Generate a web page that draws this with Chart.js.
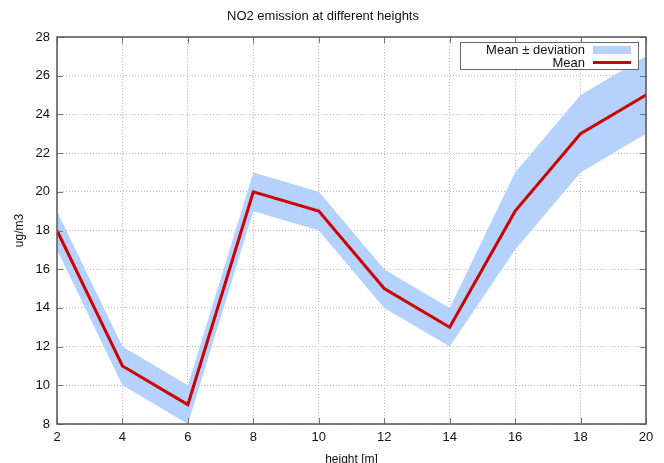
<!DOCTYPE html>
<html>
<head>
<meta charset="utf-8">
<script src="https://cdn.jsdelivr.net/npm/chart.js@4"></script>
<style>
  html, body { margin: 0; padding: 0; background: #fff; }
  canvas { display: block; }
</style>
</head>
<body>
<canvas id="grafico" width="664" height="463"></canvas>
<script>
// dados
const alturas = [2, 4, 6, 8, 10, 12, 14, 16, 18, 20];
const media = [18, 11, 9, 20, 19, 15, 13, 19, 23, 25];
const limiteSup = [19, 12, 10, 21, 20, 16, 14, 21, 25, 27];
const limiteInf = [17, 10, 8, 19, 18, 14, 12, 17, 21, 23];
const ticksY = [8, 10, 12, 14, 16, 18, 20, 22, 24, 26, 28];

const corFaixa = 'rgb(181,210,255)';
const corMedia = 'rgb(204,0,0)';
const fonte = "'Liberation Sans', Arial, sans-serif";

function pontos(vals) {
  return alturas.map((x, i) => ({ x: x, y: vals[i] }));
}

// caixa em volta do grafico + legenda do jeito do gnuplot
const caixaELegenda = {
  id: 'caixaELegenda',
  afterDatasetsDraw(chart) {
    const ctx = chart.ctx;
    const a = chart.chartArea;
    ctx.save();
    // marcas pra dentro
    ctx.strokeStyle = '#777';
    ctx.lineWidth = 1;
    const sx = chart.scales.x, sy = chart.scales.y;
    alturas.forEach(v => {
      const px = Math.round(sx.getPixelForValue(v)) + 0.5;
      ctx.beginPath(); ctx.moveTo(px, a.bottom); ctx.lineTo(px, a.bottom - 6); ctx.stroke();
      ctx.beginPath(); ctx.moveTo(px, a.top); ctx.lineTo(px, a.top + 6); ctx.stroke();
    });
    ticksY.forEach(v => {
      const py = Math.round(sy.getPixelForValue(v)) + 0.5;
      ctx.beginPath(); ctx.moveTo(a.left, py); ctx.lineTo(a.left + 6, py); ctx.stroke();
      ctx.beginPath(); ctx.moveTo(a.right, py); ctx.lineTo(a.right - 6, py); ctx.stroke();
    });
    // borda
    ctx.strokeStyle = '#555';
    ctx.lineWidth = 1.5;
    ctx.strokeRect(a.left, a.top, a.right - a.left, a.bottom - a.top);

    // legenda
    const lx = 460, ly = 42, lw = 178, lh = 27;
    ctx.fillStyle = '#fff';
    ctx.fillRect(lx, ly, lw, lh);
    ctx.strokeStyle = '#666';
    ctx.lineWidth = 1;
    ctx.strokeRect(lx + 0.5, ly + 0.5, lw, lh);
    ctx.font = '13px ' + fonte;
    ctx.fillStyle = '#111';
    ctx.textAlign = 'right';
    ctx.textBaseline = 'middle';
    ctx.fillText(chart.data.datasets[0].label, 585, 50);
    ctx.fillText(chart.data.datasets[2].label, 585, 63);
    ctx.fillStyle = corFaixa;
    ctx.fillRect(593, 46, 38, 8);
    ctx.strokeStyle = corMedia;
    ctx.lineWidth = 3;
    ctx.beginPath(); ctx.moveTo(593, 62.5); ctx.lineTo(631, 62.5); ctx.stroke();
    ctx.restore();
  }
};

const ctx = document.getElementById('grafico').getContext('2d');
const grafico = new Chart(ctx, {
  type: 'scatter',
  data: {
    datasets: [
      {
        label: 'Mean ± deviation',
        data: pontos(limiteSup),
        showLine: true,
        borderWidth: 0,
        borderColor: corFaixa,
        backgroundColor: corFaixa,
        pointRadius: 0,
        fill: '+1',
        order: 2
      },
      {
        label: 'inf',
        data: pontos(limiteInf),
        showLine: true,
        borderWidth: 0,
        borderColor: corFaixa,
        pointRadius: 0,
        fill: false,
        order: 2
      },
      {
        label: 'Mean',
        data: pontos(media),
        showLine: true,
        borderColor: corMedia,
        borderWidth: 3,
        pointRadius: 0,
        fill: false,
        order: 1
      }
    ]
  },
  options: {
    responsive: false,
    animation: false,
    devicePixelRatio: 1,
    layout: { padding: { left: 0, right: 18, top: 0, bottom: 0 } },
    plugins: {
      legend: { display: false },
      tooltip: { enabled: false },
      title: {
        display: true,
        text: 'NO2 emission at different heights',
        color: '#111',
        font: { family: fonte, size: 13, weight: 'normal', lineHeight: 1.2 },
        padding: { top: 9, bottom: 12.4 }
      }
    },
    scales: {
      x: {
        type: 'linear',
        min: 2,
        max: 20,
        afterFit: s => { s.height = 39; },
        ticks: {
          stepSize: 2,
          padding: 6,
          color: '#111',
          font: { family: fonte, size: 13 }
        },
        grid: { color: '#bbb', drawTicks: false },
        border: { display: false, dash: [1, 2] },
        title: {
          display: true,
          text: 'height [m]',
          color: '#111',
          font: { family: fonte, size: 12 },
          padding: { top: 4, bottom: -4 }
        }
      },
      y: {
        min: 8,
        max: 28,
        afterFit: s => { s.width = 57; },
        afterBuildTicks: s => { s.ticks = ticksY.map(v => ({ value: v })); },
        ticks: {
          padding: 7,
          color: '#111',
          font: { family: fonte, size: 13 }
        },
        grid: { color: '#bbb', drawTicks: false },
        border: { display: false, dash: [1, 2] },
        title: {
          display: true,
          text: 'ug/m3',
          color: '#111',
          font: { family: fonte, size: 12 },
          padding: { top: 12, bottom: 0 }
        }
      }
    }
  },
  plugins: [caixaELegenda]
});
</script>
</body>
</html>
